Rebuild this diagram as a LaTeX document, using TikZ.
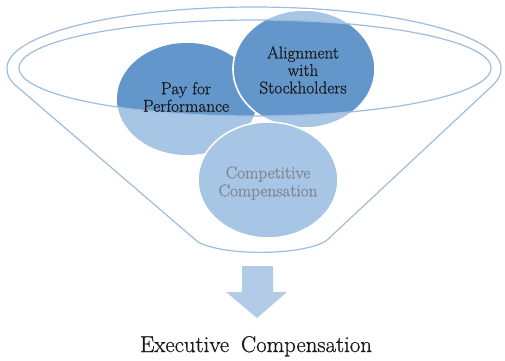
\documentclass[tikz,border=0pt]{standalone}
\usepackage{fontspec}
\newfontfamily\labelface{Latin Modern Roman}[FakeBold=0.8]
\usetikzlibrary{shapes.geometric}

\definecolor{rim}{HTML}{9FBCDD}
\definecolor{ballLight}{HTML}{A7C5E5}
\definecolor{ballDark}{HTML}{6396CB}
\definecolor{arrowBlue}{HTML}{B2CBE7}
\definecolor{inkDark}{HTML}{1A1A1A}
\definecolor{inkGrey}{HTML}{7D8791}

\tikzset{
  rimline/.style={draw=rim, line width=1.2pt, line join=round},
  ball/.style={ellipse, inner sep=0pt, fill=ballLight,
               minimum width=140pt, minimum height=114pt},
  rimmed/.style={draw=white, line width=1.6pt},
  ballText/.style={align=center, text=inkDark,
                   font=\labelface\fontsize{17.2}{17.5}\selectfont},
  greyText/.style={align=center, text=inkGrey,
                   font=\labelface\fontsize{17.2}{18}\selectfont},
}

\begin{document}
\begin{tikzpicture}[x=1pt, y=-1pt]
\useasboundingbox (0,0) rectangle (505,360);

% funnel body: upper rim, two sides and the narrow bottom
\draw[rimline] (7,68) arc[start angle=180, end angle=0, x radius=247pt, y radius=61pt]
  .. controls (501,76) and (498,80) .. (492,86)
  -- (326,241) .. controls (300,256) and (224,256) .. (198,242)
  -- (14,84) .. controls (9,79) and (7,75) .. (7,68) -- cycle;

% the three balls
\node[ball, minimum width=140pt, minimum height=112pt] (pfp) at (187,99) {};
\node[ball, rimmed, fill=ballLight, minimum width=142pt, minimum height=118pt] (align) at (304,69) {};
\node[ball, rimmed, fill=ballLight, minimum width=140pt, minimum height=116pt] (comp) at (268,180) {};

% darker shade where the balls sit inside the inner rim
\begin{scope}
  \clip (255,68) ellipse [x radius=236pt, y radius=48pt];
  \fill[ballDark] (pfp.center) ellipse [x radius=70pt, y radius=56pt];
  \filldraw[ballDark, draw=white, line width=1.6pt] (align.center) ellipse [x radius=71pt, y radius=59pt];
\end{scope}

% inner rim of the funnel
\draw[rimline] (255,68) ellipse [x radius=236pt, y radius=48pt];

% labels of the balls
\node[ballText] (pfpText) at (186,97) {Pay for\\Performance};
\node[ballText] (alignText) at (303,70) {Alignment\\with\\Stockholders};
\node[greyText] (compText) at (268,183) {Competitive\\Compensation};

% block arrow out of the funnel
\fill[arrowBlue] (242,266) -- (273,266) -- (273,292) -- (287,292)
  -- (257,318) -- (226,292) -- (242,292) -- cycle;

% result
\node[anchor=base, text=inkDark, font=\labelface\fontsize{22.8}{24}\selectfont] (result)
  at (256,352) {Executive\hspace{5pt} Compensation};
\end{tikzpicture}
\end{document}
